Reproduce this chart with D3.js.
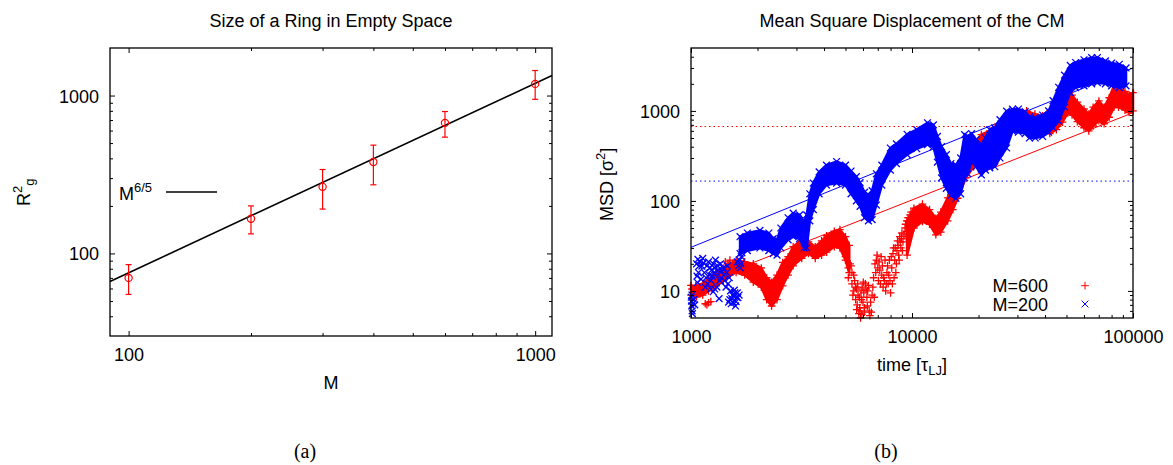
<!DOCTYPE html>
<html><head><meta charset="utf-8">
<script src="https://cdn.jsdelivr.net/npm/d3@7"></script>
<style>
html,body{margin:0;padding:0;background:#fff;}
svg text{font-family:"Liberation Sans",Arial,Helvetica,sans-serif;fill:#000;}
</style></head>
<body><svg id="chart" width="1173" height="465"></svg>
<script>
// ================= Panel (a): Size of a Ring in Empty Space =================
const ringM = [100, 200, 300, 400, 600, 1000];
const ringRg2 = [70, 166, 264, 379, 671, 1185];
const ringErrLo = [55, 133, 191, 272, 545, 946];
const ringErrHi = [85, 200, 340, 485, 792, 1440];
const ringFitM = [90, 1100];
const ringFitRg2 = [66.4, 1339];
const ringXDomain = [90, 1100];
const ringYDomain = [30, 2000];
const ringXMajor = [100, 1000];
const ringXMinor = [200, 300, 400, 500, 600, 700, 800, 900];
const ringYMajor = [100, 1000];
const ringYMinor = [40, 50, 60, 70, 80, 90, 200, 300, 400, 500, 600, 700, 800, 900];

// ================= Panel (b): Mean Square Displacement of the CM =================
const msdXDomain = [1000, 100000];
const msdYDomain = [5, 5000];
const msdXMajor = [1000, 10000, 100000];
const msdXMinor = [2000,3000,4000,5000,6000,7000,8000,9000,20000,30000,40000,50000,60000,70000,80000,90000];
const msdYMajor = [10, 100, 1000];
const msdYMinor = [6,7,8,9,20,30,40,50,60,70,80,90,200,300,400,500,600,700,800,900,2000,3000,4000];
const seriesNames = ["M=600", "M=200"];
// horizontal dotted reference levels (R_g^2 of M=600 and M=200)
const levelM600 = 671;
const levelM200 = 166;
// straight fits (end points)
const fitT = [1000, 100000];
const fitM600 = [11, 955];
const fitM200 = [30.5, 3000];

// M=600 dense band: [time, low, high]
const m600Band = [
 [1000,9.0,11.5],[1060,8.6,11.0],[1130,9.0,12.0],[1200,10.0,13.5],[1300,11.4,16],[1400,13,18],
 [1500,15,20],[1600,16,22],[1750,15,21],[1914,12.5,20],[2080,11,18],[2200,8,14],[2316,6.8,12.5],
 [2450,8,15],[2600,11.4,20.7],[2750,15,24],[2900,19,31],[3170,23,37],[3400,26,35],[3650,23,31],
 [3900,25,36],[4110,27,41],[4450,31,46],[4720,30,48],[5000,22,40],[5200,16,32]
];
const m600Band2 = [
 [9500,25,60],[10200,50,83],[11150,59,92],[12000,55,80],[12820,42,64],[13500,45,75],[14500,60,108],
 [15300,80,170],[16100,107,233],[17500,180,327],[19000,240,420],[20600,300,545],[22500,390,600],
 [24500,450,713],[27000,550,900],[30000,700,1000],[33000,840,1000],[36000,620,920],[39000,600,880],
 [42000,560,1000],[45000,620,1100],[48000,750,1350],[50700,950,1700],[53000,900,1500],[56000,760,1250],
 [60000,650,1050],[63100,600,920],[66000,680,1100],[70100,780,1290],[74000,720,1100],[78000,850,1400],
 [82000,1100,1900],[86000,1100,1800],[92000,1020,1650],[96000,960,1500],[100000,1000,1600]
];
// M=600 scattered points: [time, msd]
const m600Points = [
 [1010,10.5],[1050,11.5],[1100,9.3],[1160,7.2],[1180,7.0],[1200,7.4],[1230,7.6],[1380,15],[1430,21],[1470,20],[1500,22],
 [4950,30],[5000,24],[5150,18],[5150,14],[5250,20],[5350,12],[5350,16],[5450,10],[5500,13],[5560,8],[5600,10.5],
 [5650,7],[5700,9],[5750,5.6],[5800,6.5],[5850,5.0],[5900,8],[5950,11],[6000,7.5],[6050,9.5],[6100,6.5],[6150,12],
 [6250,8.5],[6300,10],[6400,6],[6450,5.3],[6500,7.5],[6600,9],[6700,14],[6800,20],[6850,16],[6900,22],[7000,18],
 [7050,13],[7150,17],[7300,15],[7400,11],[7500,13],[7600,10],[7700,16],[7800,12],[7900,22],[8000,9.5],[8100,18],
 [8200,26],[8300,14],[8400,30],[8500,20],[8600,36],[8700,25],[8800,40],[8900,30],[9000,44],[9100,35],[9300,50],
 [9400,40],[9500,60],[9700,48],[9800,70],
 [5300,19],[5400,9],[5450,15],[5550,11],[5620,6.2],[5680,12],[5780,8.5],[5820,6],[5880,10],[5930,5.5],[6020,12.5],
 [6080,5.8],[6200,10.5],[6280,6.8],[6350,11.5],[6550,5.8],[6650,11],[6750,8.5],[6950,25],[7100,21],[7200,12],
 [7250,24],[7350,19],[7450,14],[7550,22],[7650,12],[7750,19],[7850,15],[7950,13],[8050,24],[8150,12],[8250,30],
 [8350,22],[8450,16],[8550,28],[8650,32],[8750,22],[8850,35],[8950,38],[9050,28],[9200,42],[9350,55],[9450,46],
 [9600,65],[9750,58],[9900,75]
];
// M=200 dense band: [time, low, high]
const m200Band = [
 [1667,26,40],[1800,28,44],[2050,30,47],[2250,28,44],[2355,26,38],[2450,25,37],[2550,30,50],[2750,37,65],
 [2900,40,73],[3100,38,70],[3250,30,58],[3338,30,70],[3450,60,120],[3576,80,158],[3800,120,210],[4100,150,250],
 [4560,158,274],[5000,150,250],[5300,120,215],[5600,100,186],[5820,87,160],[6100,65,125],[6350,60,117],
 [6600,62,130],[6900,90,200],[7300,150,250],[7980,220,387],[8500,260,430],[9500,327,550],[10500,380,620],
 [11750,422,738],[12500,400,700],[13030,270,520],[13600,180,400],[14300,138,327],[15000,115,260],[15800,107,251],
 [16600,120,300],[17300,180,545],[17900,200,520],[18600,275,560],[19500,240,480],[20600,195,422],[21500,220,500],
 [22500,233,620],[23700,240,650],[25000,300,800],[26800,387,993],[28500,597,1045],[30300,580,1050],[32500,560,980],
 [34000,500,860],[36100,500,840],[39000,520,900],[41500,580,1000],[43500,650,1300],[46100,770,1830],[49000,1100,2500],
 [52000,1600,3200],[55000,1815,3450],[60000,1900,3700],[65000,2000,3900],[69000,2060,3920],[75000,2000,3600],
 [80000,1900,3400],[86700,1815,3300],[93000,1900,3000]
];
// M=200 scattered points: [time, msd]
const m200Points = [
 [1003,8.5],[1005,7.7],[1008,6.8],[1012,6.0],[1020,7.3],[1030,8],[1060,20],[1075,22.4],[1090,19],[1100,21],
 [1120,18.9],[1140,20.5],[1065,14.6],[1070,12.4],[1150,16],[1170,14],[1190,12],[1210,15],[1230,13],[1240,17],
 [1262,20],[1280,18],[1290,22],[1300,15],[1320,19],[1230,10.5],[1260,9.8],[1280,10.5],[1340,8.2],[1350,13],
 [1370,14],[1400,18],[1420,13],[1450,16],[1470,12],[1480,7.5],[1500,8],[1520,7.2],[1540,9],[1560,8.8],[1580,9.5],
 [1590,6.8],[1600,7.6],[1620,9.5],[1630,8.4],[1640,19],[1660,22],[1680,20],[1700,26.5],[1690,24],
 [1010,9],[1015,5.6],[1040,7],[1080,16],[1110,13.5],[1130,23],[1160,11],[1180,19],[1200,21],[1220,18],[1250,14.5],
 [1270,16],[1310,11],[1330,17],[1360,20],[1380,16.5],[1410,15],[1440,11],[1460,19],[1490,14],[1510,10],[1530,8.2],
 [1550,7.5],[1570,10.2],[1610,8.5],[1650,9],[1620,21],[1670,18]
];

// ================= drawing =================
const svg = d3.select("#chart");
const FONT = 18;
const RED = "#ff0000", BLUE = "#0000ff";
const plusPath = "M-3.8,0H3.8M0,-3.8V3.8";
const crossPath = "M-3.4,-3.4L3.4,3.4M-3.4,3.4L3.4,-3.4";

function frame(g, x, y, xMaj, xMin, yMaj, yMin) {
  const [xl, xr] = x.range(), [yb, yt] = y.range();
  const fmt = d => String(d);
  const clean = s => {
    s.attr("font-size", FONT).attr("font-family", null);
    s.select(".domain").remove();
    s.selectAll("line").attr("stroke", "#000").attr("stroke-width", 1);
  };
  const b = g.append("g").attr("transform", `translate(0,${yb})`);
  b.append("g").call(d3.axisBottom(x).tickValues(xMaj).tickSize(-5).tickFormat(fmt)).call(clean)
    .call(s => s.selectAll("text").attr("y", 25).attr("dy", null));
  b.append("g").call(d3.axisBottom(x).tickValues(xMin).tickSize(-3).tickFormat("")).call(clean);
  const t = g.append("g").attr("transform", `translate(0,${yt})`);
  t.append("g").call(d3.axisTop(x).tickValues(xMaj).tickSize(-5).tickFormat("")).call(clean);
  t.append("g").call(d3.axisTop(x).tickValues(xMin).tickSize(-3).tickFormat("")).call(clean);
  const l = g.append("g").attr("transform", `translate(${xl},0)`);
  l.append("g").call(d3.axisLeft(y).tickValues(yMaj).tickSize(-5).tickFormat(fmt)).call(clean)
    .call(s => s.selectAll("text").attr("x", -11).attr("dy", "0.36em"));
  l.append("g").call(d3.axisLeft(y).tickValues(yMin).tickSize(-3).tickFormat("")).call(clean);
  const r = g.append("g").attr("transform", `translate(${xr},0)`);
  r.append("g").call(d3.axisRight(y).tickValues(yMaj).tickSize(-5).tickFormat("")).call(clean);
  r.append("g").call(d3.axisRight(y).tickValues(yMin).tickSize(-3).tickFormat("")).call(clean);
  g.append("rect").attr("x", xl).attr("y", yt).attr("width", xr - xl).attr("height", yb - yt)
    .attr("fill", "none").attr("stroke", "#000").attr("stroke-width", 1.3);
}

// ----- Panel (a) -----
{
  const x = d3.scaleLog().domain(ringXDomain).range([110, 552]);
  const y = d3.scaleLog().domain(ringYDomain).range([336, 48]);
  const g = svg.append("g");
  g.append("path").datum(ringFitM.map((m, i) => [m, ringFitRg2[i]]))
    .attr("d", d3.line().x(d => x(d[0])).y(d => y(d[1])))
    .attr("fill", "none").attr("stroke", "#000").attr("stroke-width", 1.6);
  const pts = ringM.map((m, i) => ({m, v: ringRg2[i], lo: ringErrLo[i], hi: ringErrHi[i]}));
  const eb = g.append("g").attr("stroke", RED).attr("stroke-width", 1.2).attr("fill", "none");
  pts.forEach(p => {
    const cx = x(p.m);
    eb.append("line").attr("x1", cx).attr("x2", cx).attr("y1", y(p.lo)).attr("y2", y(p.hi));
    eb.append("line").attr("x1", cx - 3).attr("x2", cx + 3).attr("y1", y(p.lo)).attr("y2", y(p.lo));
    eb.append("line").attr("x1", cx - 3).attr("x2", cx + 3).attr("y1", y(p.hi)).attr("y2", y(p.hi));
    eb.append("circle").attr("cx", cx).attr("cy", y(p.v)).attr("r", 3.6);
  });
  frame(g, x, y, ringXMajor, ringXMinor, ringYMajor, ringYMinor);
  const key = g.append("text").attr("x", 119).attr("y", 200).attr("font-size", FONT);
  key.append("tspan").text("M");
  key.append("tspan").attr("dy", -8).attr("font-size", 13).text("6/5");
  g.append("line").attr("x1", 166).attr("x2", 217).attr("y1", 192).attr("y2", 192)
    .attr("stroke", "#000").attr("stroke-width", 1.6);
  g.append("text").attr("x", 331).attr("y", 26.5).attr("text-anchor", "middle").attr("font-size", FONT)
    .text("Size of a Ring in Empty Space");
  g.append("text").attr("x", 331).attr("y", 389).attr("text-anchor", "middle").attr("font-size", FONT).text("M");
  const yl = g.append("text").attr("transform", "translate(30,206) rotate(-90)").attr("font-size", FONT);
  yl.append("tspan").text("R");
  yl.append("tspan").attr("dy", -8).attr("font-size", 13).text("2");
  yl.append("tspan").attr("dy", 12).attr("font-size", 13).text("g");
  svg.append("text").attr("x", 305).attr("y", 458).attr("text-anchor", "middle")
    .attr("font-size", 20).style("font-family", "'Liberation Serif','DejaVu Serif',serif").text("(a)");
}

// ----- Panel (b) -----
{
  const x = d3.scaleLog().domain(msdXDomain).range([691, 1133]);
  const y = d3.scaleLog().domain(msdYDomain).range([318, 48]);
  const g = svg.append("g");
  const [xl, xr] = x.range();
  [[levelM600, RED], [levelM200, BLUE]].forEach(([v, c]) => {
    g.append("line").attr("x1", xl).attr("x2", xr).attr("y1", y(v)).attr("y2", y(v))
      .attr("stroke", c).attr("stroke-width", 1).attr("stroke-dasharray", "1.5,3");
  });
  [[fitM600, RED], [fitM200, BLUE]].forEach(([vals, c]) => {
    g.append("path").datum(fitT.map((t, i) => [t, vals[i]]))
      .attr("d", d3.line().x(d => x(d[0])).y(d => y(d[1])))
      .attr("fill", "none").attr("stroke", c).attr("stroke-width", 1);
  });
  const area = d3.area().x(d => x(d[0])).y0(d => y(d[1])).y1(d => y(d[2]));
  function series(bands, points, color, marker) {
    const s = g.append("g");
    bands.forEach(b => {
      s.append("path").datum(b).attr("d", area).attr("fill", color).attr("stroke", color).attr("stroke-width", 2.5);
    });
    const mk = s.append("g").attr("stroke", color).attr("stroke-width", 1.3).attr("fill", "none");
    const all = [];
    bands.forEach(b => b.forEach(d => { all.push([d[0], d[1]]); all.push([d[0], d[2]]); }));
    points.forEach(d => all.push(d));
    mk.selectAll("path").data(all).join("path")
      .attr("transform", d => `translate(${x(d[0])},${y(d[1])})`).attr("d", marker);
  }
  series([m600Band, m600Band2], m600Points, RED, plusPath);
  series([m200Band], m200Points, BLUE, crossPath);
  frame(g, x, y, msdXMajor, msdXMinor, msdYMajor, msdYMinor);
  [[seriesNames[0], RED, plusPath, 292, 285.7], [seriesNames[1], BLUE, crossPath, 310.5, 304]].forEach(([n, c, p, by, my]) => {
    g.append("text").attr("x", 1048).attr("y", by).attr("text-anchor", "end").attr("font-size", FONT).text(n);
    g.append("path").attr("transform", `translate(1085,${my})`).attr("d", p)
      .attr("stroke", c).attr("stroke-width", 1).attr("fill", "none");
  });
  g.append("text").attr("x", 912).attr("y", 26.5).attr("text-anchor", "middle").attr("font-size", FONT)
    .text("Mean Square Displacement of the CM");
  const xlab = g.append("text").attr("x", 912).attr("y", 371).attr("text-anchor", "middle").attr("font-size", FONT);
  xlab.append("tspan").text("time [τ");
  xlab.append("tspan").attr("dy", 4).attr("font-size", 13).text("LJ");
  xlab.append("tspan").attr("dy", -4).text("]");
  const ylab = g.append("text").attr("transform", "translate(613,221) rotate(-90)").attr("font-size", FONT);
  ylab.append("tspan").text("MSD [σ");
  ylab.append("tspan").attr("dy", -8).attr("font-size", 13).text("2");
  ylab.append("tspan").attr("dy", 8).text("]");
  svg.append("text").attr("x", 886).attr("y", 458).attr("text-anchor", "middle")
    .attr("font-size", 20).style("font-family", "'Liberation Serif','DejaVu Serif',serif").text("(b)");
}
</script>
</body></html>
